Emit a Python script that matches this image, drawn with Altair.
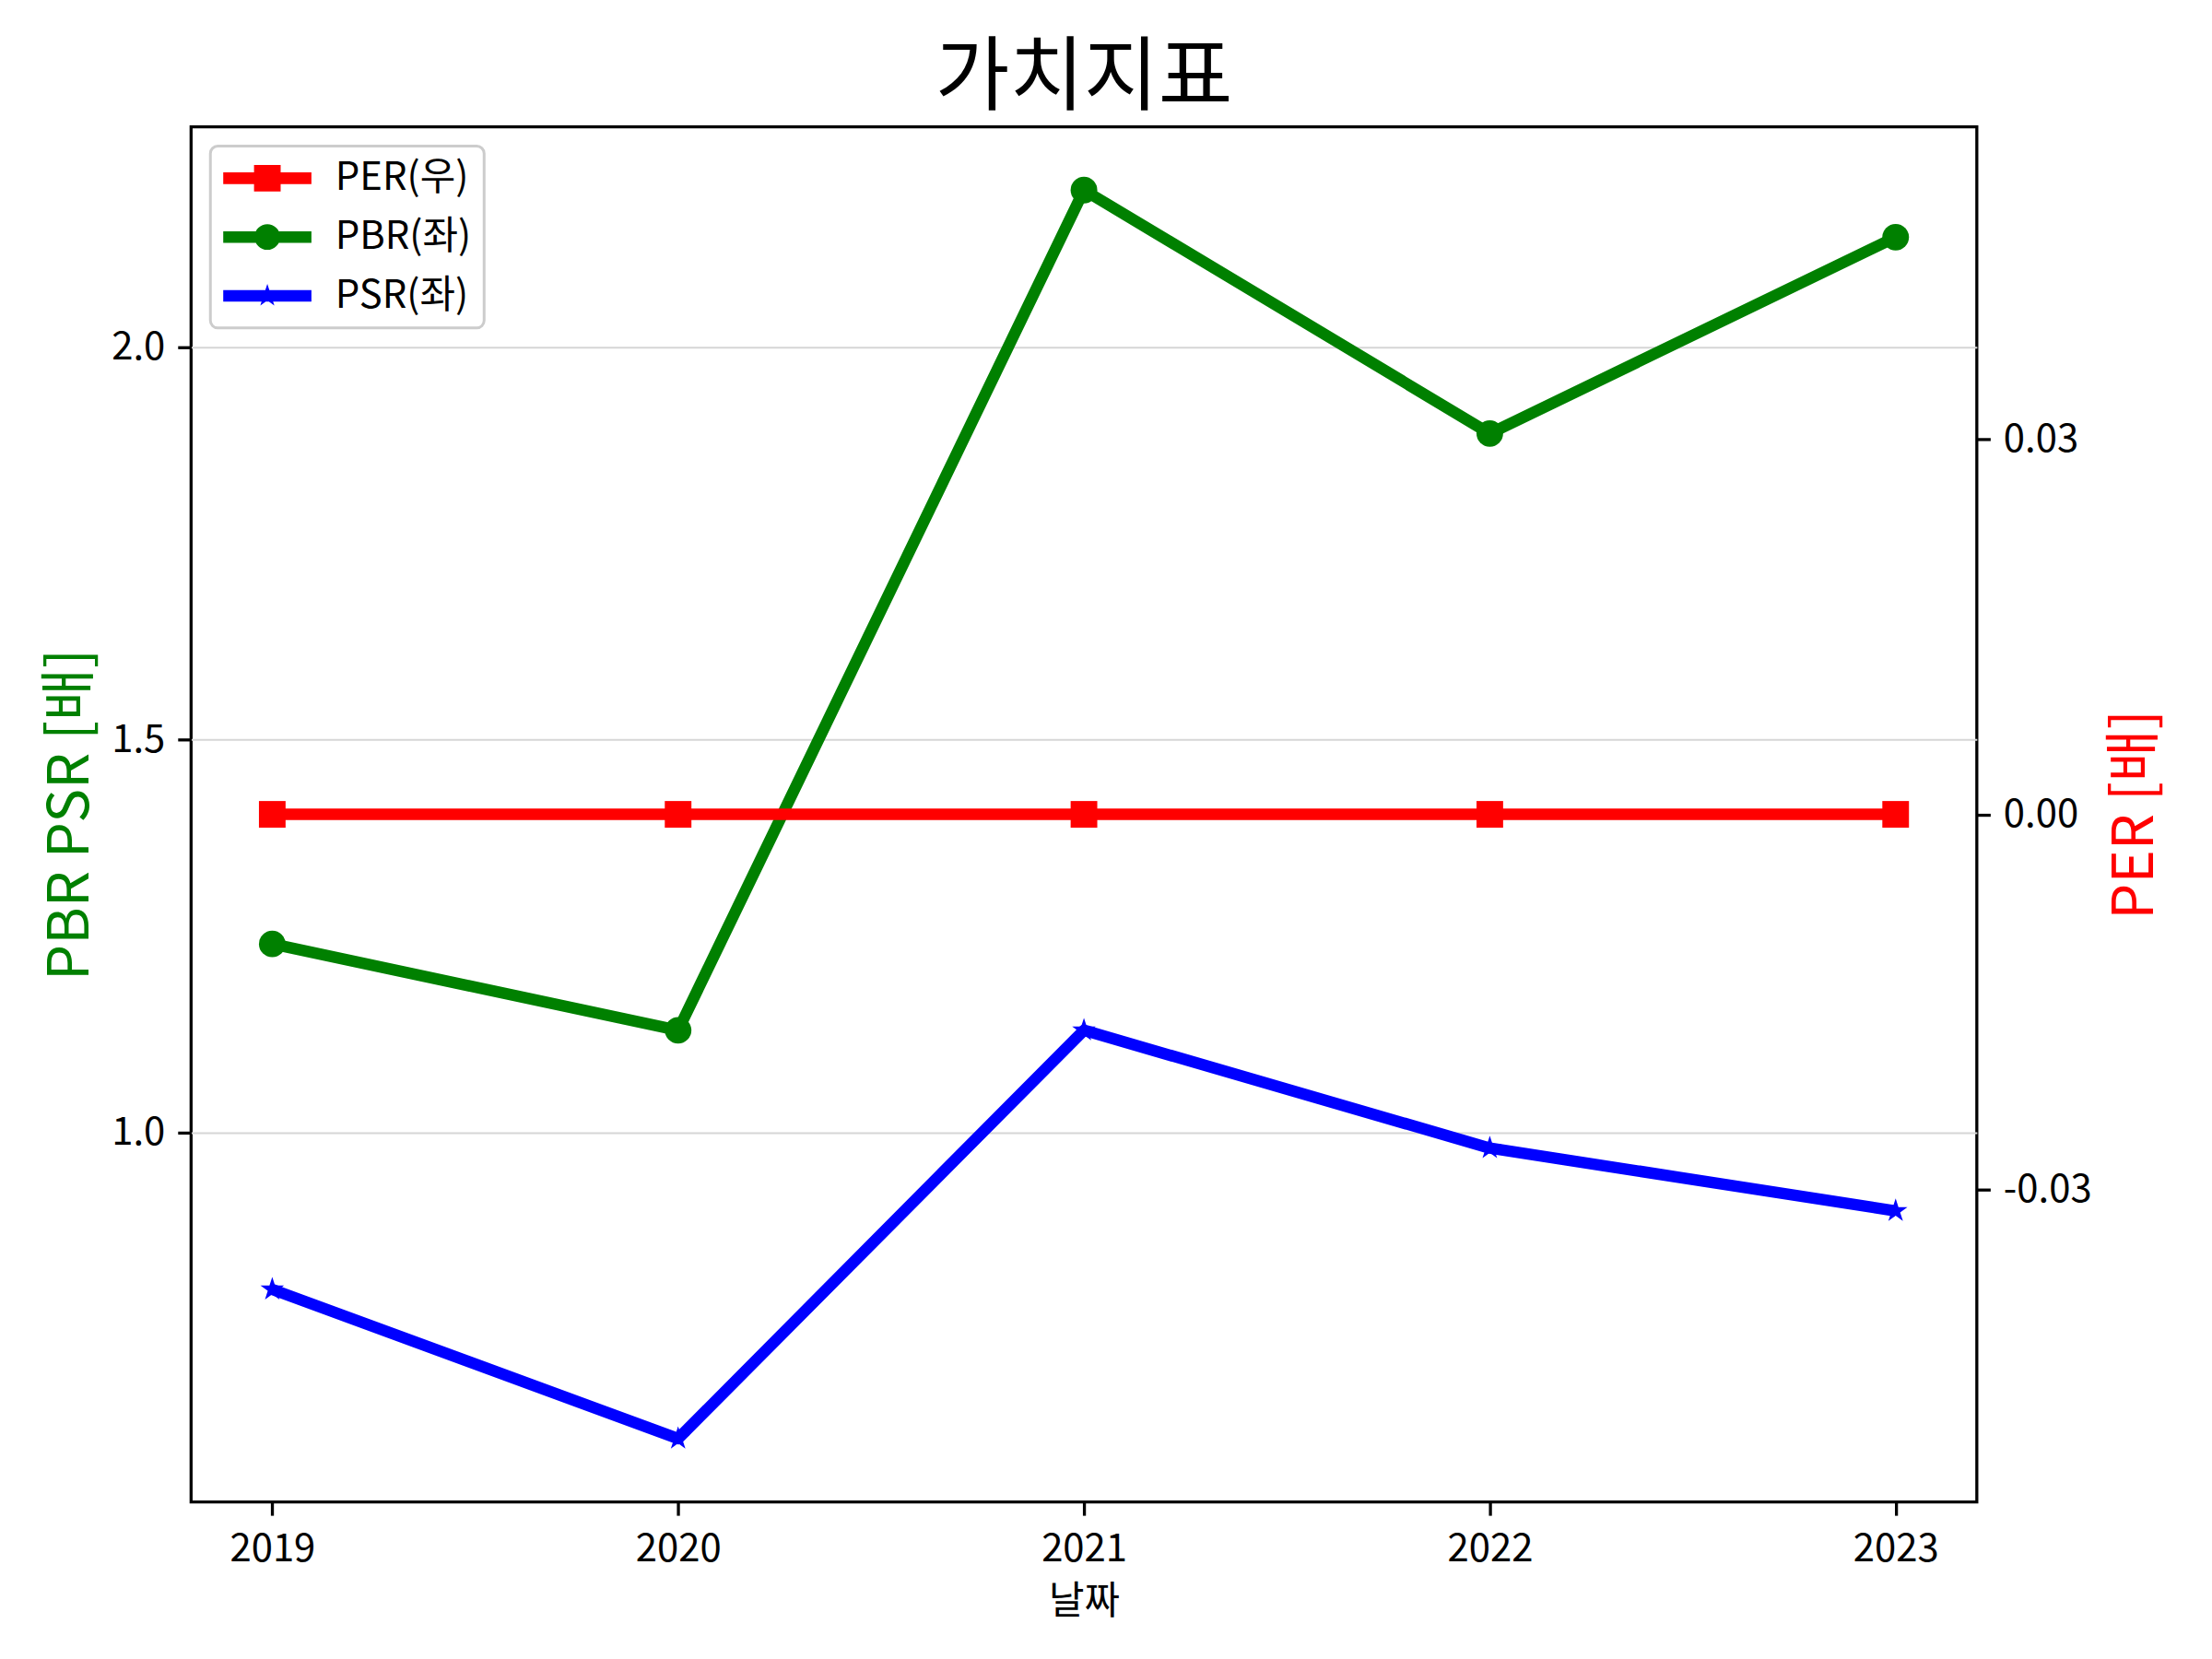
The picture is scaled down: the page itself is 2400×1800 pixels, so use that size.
import math
import altair as alt
import pandas as pd

FONT = "Noto Sans CJK KR"

# ---- data ----
years = [2019, 2020, 2021, 2022, 2023]
per_values = [0.0, 0.0, 0.0, 0.0, 0.0]
pbr_values = [1.24, 1.13, 2.20, 1.89, 2.14]
psr_values = [0.80, 0.61, 1.13, 0.98, 0.90]
series_names = ["PER(우)", "PBR(좌)", "PSR(좌)"]
series_colors = ["#ff0000", "#008000", "#0000ff"]
left_ticks = [1.0, 1.5, 2.0]
right_ticks = [-0.03, 0.0, 0.03]

rows = []
for name, vals in zip(series_names, [per_values, pbr_values, psr_values]):
    for yr, v in zip(years, vals):
        rows.append({"year": yr, "value": v, "series": name})
df = pd.DataFrame(rows)


# ---- symbol paths (style only) ----
def star_path(cx, r, inner=0.382):
    pts = []
    for k in range(10):
        ang = math.radians(-90 + 36 * k)
        rr = r if k % 2 == 0 else r * inner
        pts.append((cx + rr * math.cos(ang), rr * math.sin(ang)))
    return "M" + " L".join(f"{px:.3f},{py:.3f}" for px, py in pts) + " Z"


LINE = "M-1,-0.3 L3.571,-0.3 L3.571,0.3 L-1,0.3 Z"
CX = 1.286
leg_square = LINE + f" M{CX-0.69:.3f},-0.69 L{CX+0.69:.3f},-0.69 L{CX+0.69:.3f},0.69 L{CX-0.69:.3f},0.69 Z"
leg_circle = LINE + (f" M{CX+0.667:.3f},0 A0.667,0.667 0 1,1 {CX-0.667:.3f},0"
                     f" A0.667,0.667 0 1,1 {CX+0.667:.3f},0 Z")
leg_star = LINE + " " + star_path(CX, 0.62)
legend_paths = [leg_square, leg_circle, leg_star]
STAR = star_path(0, 1.0)

LW = 12.5
TICK = dict(tickSize=14.6, tickWidth=3.3, tickColor="black", domain=False,
            labelFont=FONT, labelFontSize=42, labelColor="black",
            titleFont=FONT, titleFontWeight="normal")

x_enc = alt.X(
    "year:Q",
    scale=alt.Scale(domain=[2018.8, 2023.2], nice=False, zero=False),
    axis=alt.Axis(values=years, format="d", title="날짜", grid=False,
                  labelPadding=17, titleFontSize=42, titlePadding=16,
                  titleColor="black", **TICK),
)

yl_scale = alt.Scale(domain=[0.5294, 2.2806], nice=False, zero=False)
yl_axis = alt.Axis(values=left_ticks, format=".1f", title="PBR PSR [배]",
                   titleColor="green", titleFontSize=62, titlePadding=12,
                   labelPadding=14, grid=True, gridColor="#d6d6d6", gridWidth=2,
                   **TICK)
yl = alt.Y("value:Q", scale=yl_scale, axis=yl_axis)

yr_scale = alt.Scale(domain=[-0.055, 0.055], nice=False, zero=False)
yr_axis = alt.Axis(orient="right", values=right_ticks,
                   labelExpr="datum.value < 0 ? '-' + format(-datum.value, '.2f') : format(datum.value, '.2f')",
                   title="PER [배]", titleColor="red", titleFontSize=62,
                   titleAngle=270, titleBaseline="top", titlePadding=18,
                   labelPadding=14, grid=False, **TICK)
yr = alt.Y("value:Q", scale=yr_scale, axis=yr_axis)

base = alt.Chart(df)


def series_layers(name, color, shape, size, y):
    sub = base.transform_filter(alt.datum.series == name)
    line = sub.mark_line(color=color, strokeWidth=LW, strokeJoin="round").encode(x=x_enc, y=y)
    pts = sub.mark_point(shape=shape, filled=True, size=size, color=color,
                         opacity=1, strokeWidth=0).encode(x=x_enc, y=y)
    return [line, pts]


leg = alt.Legend(title=None, orient="top-left", offset=21, labelFont=FONT,
                 labelFontSize=42, labelColor="black", symbolSize=1764,
                 symbolStrokeWidth=0, symbolOpacity=1, labelOffset=80,
                 rowPadding=22, padding=14)

legend_layer = base.mark_point(filled=True, opacity=0).encode(
    x=x_enc, y=yl,
    color=alt.Color("series:N", scale=alt.Scale(domain=series_names, range=series_colors), legend=leg),
    shape=alt.Shape("series:N", scale=alt.Scale(domain=series_names, range=legend_paths), legend=leg),
)

left = alt.layer(
    *series_layers("PBR(좌)", "#008000", "circle", 841, yl),
    *series_layers("PSR(좌)", "#0000ff", STAR, 729, yl),
    legend_layer,
)
right = alt.layer(*series_layers("PER(우)", "#ff0000", "square", 841, yr))

chart = (
    alt.layer(left, right)
    .resolve_scale(y="independent")
    .properties(
        width=1944, height=1497,
        title=alt.TitleParams("가치지표", font=FONT, fontSize=88, fontWeight="normal",
                              color="black", anchor="middle", offset=8),
        autosize=alt.AutoSizeParams(type="none"),
        padding={"left": 200, "top": 127, "right": 248, "bottom": 160},
        background="white",
    )
    .configure_view(stroke="black", strokeWidth=3.3)
    .configure_legend(fillColor="white", strokeColor="#cccccc", strokeWidth=3,
                      cornerRadius=8)
)

chart.save("out.html", embed_options={"renderer": "svg", "actions": False})
